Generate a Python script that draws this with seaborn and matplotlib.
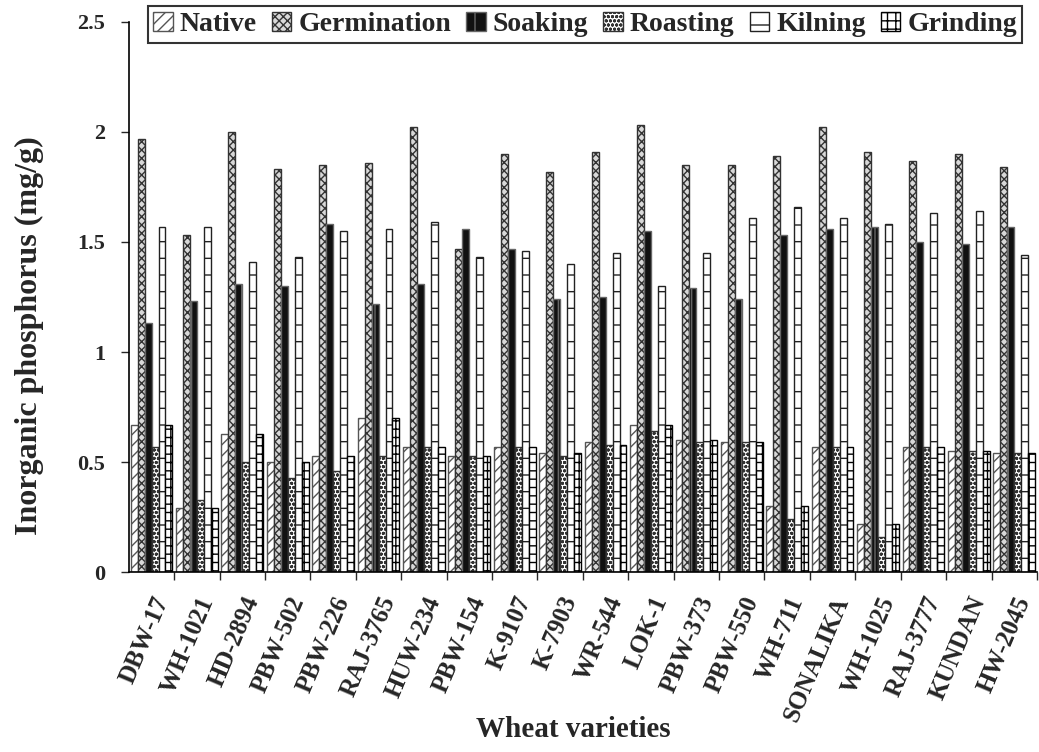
import matplotlib
matplotlib.use("Agg")
import matplotlib.pyplot as plt
import seaborn as sns
import pandas as pd
from matplotlib.patches import Patch

varieties = ["DBW-17", "WH-1021", "HD-2894", "PBW-502", "PBW-226", "RAJ-3765", "HUW-234",
             "PBW-154", "K-9107", "K-7903", "WR-544", "LOK-1", "PBW-373", "PBW-550",
             "WH-711", "SONALIKA", "WH-1025", "RAJ-3777", "KUNDAN", "HW-2045"]
native      = [0.67, 0.29, 0.63, 0.50, 0.53, 0.70, 0.57, 0.53, 0.57, 0.54, 0.59, 0.67, 0.60, 0.59, 0.30, 0.57, 0.22, 0.57, 0.55, 0.54]
germination = [1.97, 1.53, 2.00, 1.83, 1.85, 1.86, 2.02, 1.47, 1.90, 1.82, 1.91, 2.03, 1.85, 1.85, 1.89, 2.02, 1.91, 1.87, 1.90, 1.84]
soaking     = [1.13, 1.23, 1.31, 1.30, 1.58, 1.22, 1.31, 1.56, 1.47, 1.24, 1.25, 1.55, 1.29, 1.24, 1.53, 1.56, 1.57, 1.50, 1.49, 1.57]
roasting    = [0.57, 0.33, 0.50, 0.43, 0.46, 0.53, 0.57, 0.53, 0.57, 0.53, 0.58, 0.64, 0.59, 0.59, 0.24, 0.57, 0.16, 0.57, 0.55, 0.54]
kilning     = [1.57, 1.57, 1.41, 1.43, 1.55, 1.56, 1.59, 1.43, 1.46, 1.40, 1.45, 1.30, 1.45, 1.61, 1.66, 1.61, 1.58, 1.63, 1.64, 1.44]
grinding    = [0.67, 0.29, 0.63, 0.50, 0.53, 0.70, 0.57, 0.53, 0.57, 0.54, 0.58, 0.67, 0.60, 0.59, 0.30, 0.57, 0.22, 0.57, 0.55, 0.54]
treatments = ["Native", "Germination", "Soaking", "Roasting", "Kilning", "Grinding"]
y_ticks = [0, 0.5, 1, 1.5, 2, 2.5]

series = [native, germination, soaking, roasting, kilning, grinding]
rows = []
for t, vals in zip(treatments, series):
    for v, val in zip(varieties, vals):
        rows.append({"Variety": v, "Treatment": t, "Value": val})
df = pd.DataFrame(rows)

sns.set_theme(style="white")
plt.rcParams["font.family"] = ["Liberation Serif", "DejaVu Serif"]
plt.rcParams["font.weight"] = "bold"
plt.rcParams["hatch.linewidth"] = 1.0

fig = plt.figure(figsize=(10.39, 7.52), dpi=100)
ax = fig.add_axes([0.124, 0.239, 0.874, 0.732])

palette = {t: "white" for t in treatments}
sns.barplot(data=df, x="Variety", y="Value", hue="Treatment", hue_order=treatments,
            order=varieties, palette=palette, width=0.92, ax=ax, legend=False,
            edgecolor="black", linewidth=1.0, saturation=1)

styles = {
    "Native":      dict(face="white", edge="#555555", hatch="///"),
    "Germination": dict(face="#d8d8d8", edge="#333333", hatch="xxxx"),
    "Soaking":     dict(face="#111111", edge="#666666", hatch="|"),
    "Roasting":    dict(face="white", edge="#333333", hatch="oooo"),
    "Kilning":     dict(face="white", edge="#222222", hatch="-"),
    "Grinding":    dict(face="white", edge="#000000", hatch="++"),
}
for cont, t in zip(ax.containers, treatments):
    s = styles[t]
    for bar in cont:
        bar.set_facecolor(s["face"])
        bar.set_edgecolor(s["edge"])
        bar.set_hatch(s["hatch"])

ax.set_ylim(0, 2.5)
ax.set_xlim(-0.5, len(varieties) - 0.5)
ax.set_yticks(y_ticks)
ax.set_yticklabels([f"{v:g}" for v in y_ticks], fontsize=16, fontweight="bold")
ax.tick_params(axis="y", direction="out", length=6, width=1, left=True, pad=11)

ax.set_xticks([i + 0.5 for i in range(len(varieties))], minor=True)
ax.tick_params(axis="x", which="minor", direction="out", length=6, width=1, bottom=True)
ax.tick_params(axis="x", which="major", length=0, pad=15)
ax.set_xticks(range(len(varieties)))
ax.set_xticklabels(varieties, rotation=67, ha="right", rotation_mode="anchor",
                   fontsize=18, fontweight="bold")

for side in ["top", "right"]:
    ax.spines[side].set_visible(False)
for side in ["left", "bottom"]:
    ax.spines[side].set_color("black")
    ax.spines[side].set_linewidth(1.2)

ax.set_ylabel("Inorganic phosphorus (mg/g)", fontsize=23, fontweight="bold")
ax.yaxis.set_label_coords(-0.093, 0.43)
ax.set_xlabel("Wheat varieties", fontsize=21, fontweight="bold")
ax.xaxis.set_label_coords(0.489, -0.262)

handles = [Patch(facecolor=styles[t]["face"], edgecolor=styles[t]["edge"], hatch=styles[t]["hatch"], label=t)
           for t in treatments]
leg = fig.legend(handles=handles, loc="upper left", bbox_to_anchor=(0.142, 0.992), ncol=6,
                 frameon=True, fancybox=False, edgecolor="black",
                 handlelength=0.7, handleheight=0.7, handletextpad=0.25, columnspacing=0.55,
                 borderpad=0.2, borderaxespad=0.0, prop={"weight": "bold", "size": 20})
leg.get_frame().set_linewidth(1.5)

fig.savefig("out.png", dpi=100)
